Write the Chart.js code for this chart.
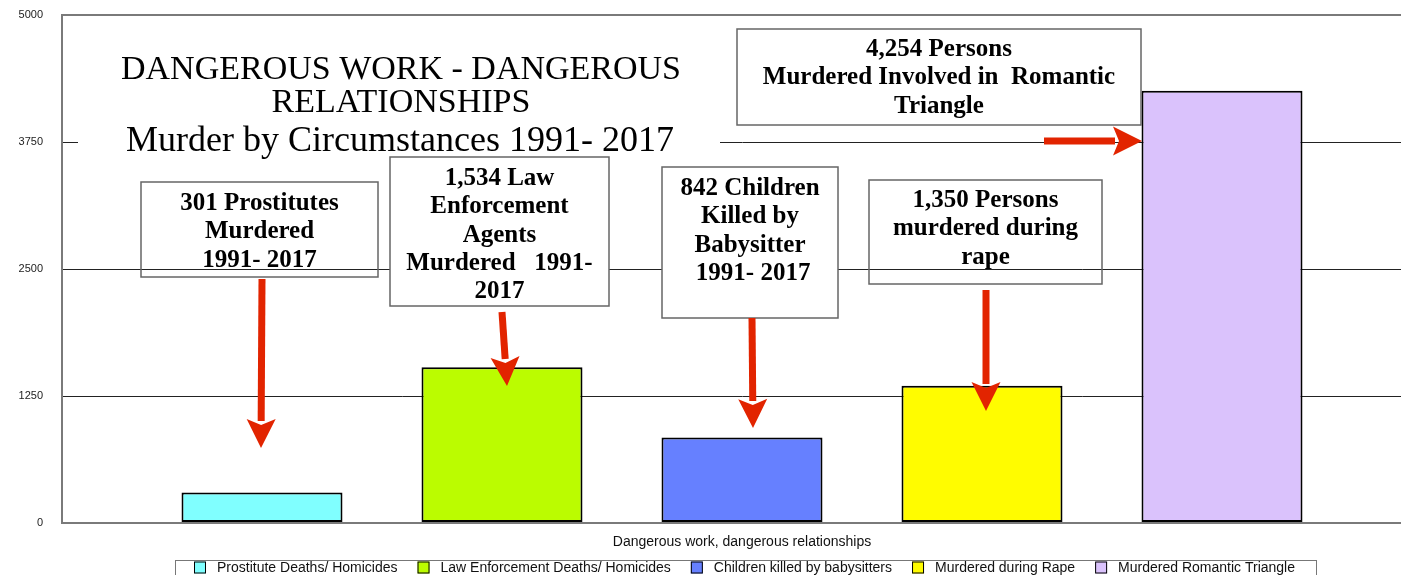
<!DOCTYPE html>
<html>
<head>
<meta charset="utf-8">
<script src="https://cdn.jsdelivr.net/npm/chart.js@4.4.1/dist/chart.umd.min.js"></script>
<style>
  html, body { margin: 0; padding: 0; background: #fff; overflow: hidden; }
  #wrap { position: relative; width: 1490px; height: 600px; }
</style>
</head>
<body>
<div id="wrap"><canvas id="c"></canvas></div>
<script>
// ---- data ----
const categories = ['Dangerous work, dangerous relationships'];
const seriesLabels = ['Prostitute Deaths/ Homicides', 'Law Enforcement Deaths/ Homicides', 'Children killed by babysitters', 'Murdered during Rape', 'Murdered Romantic Triangle'];
const seriesValues = [301, 1534, 842, 1350, 4254];
const seriesColors = ['#80FFFF', '#BBFC00', '#6680FF', '#FFFC00', '#DAC2FC'];
const yTickValues = [0, 1250, 2500, 3750, 5000];
const titleLines = ['DANGEROUS WORK - DANGEROUS', 'RELATIONSHIPS', 'Murder by Circumstances 1991- 2017'];

// annotation call-outs (text + box placement in pixels)
const callouts = [
  { lines: ['301 Prostitutes', 'Murdered', '1991- 2017'], box: [141, 182, 378, 277], first: 210, fill: false },
  { lines: ['1,534 Law', 'Enforcement', 'Agents', 'Murdered   1991-', '2017'], box: [390, 157, 609, 306], first: 185, fill: true },
  { lines: ['842 Children', 'Killed by', 'Babysitter', ' 1991- 2017'], box: [662, 167, 838, 318], first: 195, fill: true },
  { lines: ['1,350 Persons', 'murdered during', 'rape'], box: [869, 180, 1102, 284], first: 207, fill: false },
  { lines: ['4,254 Persons', 'Murdered Involved in  Romantic', 'Triangle'], box: [737, 29, 1141, 125], first: 56, fill: true }
];
const arrows = [
  [262, 279, 261, 448],
  [502, 312, 507, 386],
  [752, 318, 753, 428],
  [986, 290, 986, 411],
  [1044, 141, 1142, 141]
];

const datasets = seriesLabels.map((lab, i) => ({
  label: lab,
  data: [seriesValues[i]],
  backgroundColor: seriesColors[i],
  borderColor: '#000',
  borderWidth: 2,
  borderSkipped: false,
  categoryPercentage: 1200 / 1360,
  barPercentage: 161 / 240
}));

function drawArrow(ctx, x1, y1, x2, y2) {
  const L = 29, w = 14.5, sw = 7;
  const dx = x2 - x1, dy = y2 - y1;
  const len = Math.hypot(dx, dy);
  const ux = dx / len, uy = dy / len;
  const bx = x2 - ux * L, by = y2 - uy * L;
  ctx.save();
  ctx.strokeStyle = '#E22400';
  ctx.fillStyle = '#E22400';
  ctx.lineWidth = sw;
  ctx.lineCap = 'butt';
  ctx.beginPath();
  ctx.moveTo(x1, y1);
  ctx.lineTo(bx + ux * 2, by + uy * 2);
  ctx.stroke();
  ctx.beginPath();
  ctx.moveTo(x2, y2);
  ctx.lineTo(bx - uy * w, by + ux * w);
  ctx.lineTo(bx + ux * 6, by + uy * 6);
  ctx.lineTo(bx + uy * w, by - ux * w);
  ctx.closePath();
  ctx.fill();
  ctx.restore();
}

const overlay = {
  id: 'overlay',
  afterDatasetsDraw(chart) {
    const ctx = chart.ctx;
    ctx.save();
    // title with white backing
    ctx.fillStyle = '#fff';
    ctx.fillRect(78, 40, 642, 115);
    ctx.fillStyle = '#000';
    ctx.textAlign = 'center';
    ctx.textBaseline = 'alphabetic';
    ctx.font = "34px 'Liberation Serif'";
    ctx.fillText(titleLines[0], 401, 79);
    ctx.fillText(titleLines[1], 401, 112);
    ctx.font = "36px 'Liberation Serif'";
    ctx.fillText(titleLines[2], 400, 151);
    // callouts
    callouts.forEach(c => {
      const [l, t, r, b] = c.box;
      if (c.fill) { ctx.fillStyle = '#fff'; ctx.fillRect(l, t, r - l, b - t); }
      ctx.strokeStyle = '#666';
      ctx.lineWidth = 1.5;
      ctx.strokeRect(l, t, r - l, b - t);
      ctx.fillStyle = '#000';
      ctx.font = "bold 25px 'Liberation Serif'";
      ctx.textAlign = 'center';
      const cx = (l + r) / 2;
      c.lines.forEach((s, k) => ctx.fillText(s, cx, c.first + k * 28.3));
    });
    arrows.forEach(a => drawArrow(ctx, a[0], a[1], a[2], a[3]));
    ctx.restore();
  },
  afterDraw(chart) {
    // legend row drawn from datasets
    const ctx = chart.ctx;
    ctx.save();
    ctx.font = "14px 'Liberation Sans'";
    const box = 12, gapText = 11, gapItem = 20;
    const ds = chart.data.datasets;
    const widths = ds.map(d => box + gapText + ctx.measureText(d.label).width);
    const total = widths.reduce((a, b) => a + b, 0) + gapItem * (ds.length - 1);
    let x = 744.5 - total / 2;
    const yc = 567.5;
    ctx.strokeStyle = '#777';
    ctx.lineWidth = 1;
    ctx.strokeRect(175.5, 560.5, 1141, 30);
    ds.forEach((d, i) => {
      ctx.fillStyle = d.backgroundColor;
      ctx.fillRect(x, yc - 6, box, box);
      ctx.strokeStyle = '#000';
      ctx.lineWidth = 1;
      ctx.strokeRect(x + 0.5, yc - 5.5, box - 1, box - 1);
      ctx.fillStyle = '#111';
      ctx.textAlign = 'left';
      ctx.textBaseline = 'middle';
      ctx.fillText(d.label, x + box + gapText, yc + 0.5);
      x += widths[i] + gapItem;
    });
    ctx.restore();
  }
};

new Chart(document.getElementById('c'), {
  type: 'bar',
  data: { labels: categories, datasets },
  plugins: [overlay],
  options: {
    responsive: true,
    maintainAspectRatio: false,
    animation: false,
    events: [],
    layout: { padding: { left: 0, right: 68, top: 15, bottom: 47 } },
    plugins: { legend: { display: false }, tooltip: { enabled: false }, title: { display: false } },
    scales: {
      x: {
        ticks: { display: false },
        grid: { display: false, drawTicks: false },
        border: { display: false },
        title: { display: true, text: categories[0], color: '#111', font: { family: 'Liberation Sans', size: 14 }, padding: { top: 0, bottom: 2 } },
        afterFit(s) { s.height = 30; }
      },
      y: {
        min: 0, max: 5000,
        afterBuildTicks(s) { s.ticks = yTickValues.map(v => ({ value: v })); },
        ticks: { color: '#222', padding: 19, font: { family: 'Liberation Sans', size: 11 }, callback: v => String(v) },
        grid: {
          drawTicks: false,
          color: c => (c.tick && (c.tick.value === 0 || c.tick.value === 5000)) ? '#7a7a7a' : '#222',
          lineWidth: c => (c.tick && (c.tick.value === 0 || c.tick.value === 5000)) ? 2 : 1
        },
        border: { display: true, color: '#7a7a7a', width: 2 },
        afterFit(s) { s.width = 62; s.paddingTop = 0; s.paddingBottom = 0; }
      }
    }
  }
});
</script>
</body>
</html>
